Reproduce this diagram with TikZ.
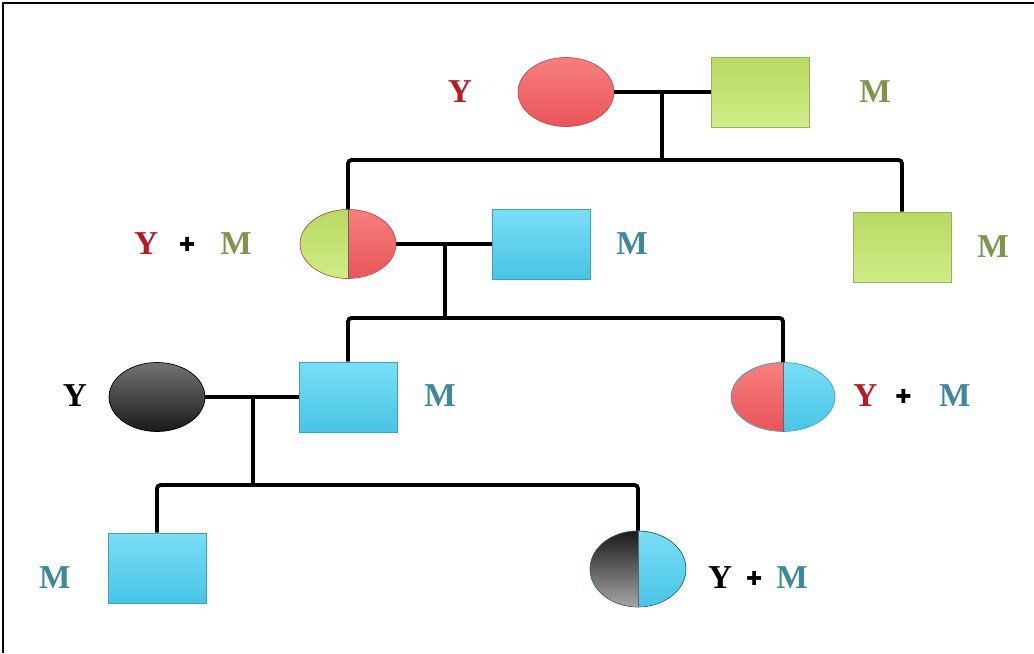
\documentclass[tikz,border=0pt]{standalone}
\usepackage{fontspec}
\setmainfont{Liberation Serif}
\newfontfamily\crossfont{DejaVu Sans}
\usetikzlibrary{shapes.geometric}
\definecolor{redtop}{RGB}{246,128,124}
\definecolor{redbot}{RGB}{234,84,90}
\definecolor{redline}{RGB}{196,72,76}
\definecolor{greentop}{RGB}{184,217,98}
\definecolor{greenbot}{RGB}{208,236,134}
\definecolor{greenline}{RGB}{150,178,90}
\definecolor{bluetop}{RGB}{122,222,246}
\definecolor{bluebot}{RGB}{72,196,230}
\definecolor{blueline}{RGB}{62,160,190}
\definecolor{labred}{RGB}{184,26,36}
\definecolor{labgreen}{RGB}{126,150,76}
\definecolor{labteal}{RGB}{62,136,156}
\newcommand{\pluscross}{{\crossfont\fontsize{11}{12}\selectfont\raisebox{0.3ex}{✚}}}
\tikzset{
  female/.style={ellipse, minimum width=1.92cm, minimum height=1.38cm, inner sep=0pt},
  male/.style={rectangle, minimum width=1.96cm, minimum height=1.4cm, inner sep=0pt},
  redfill/.style={top color=redtop, bottom color=redbot, draw=redline, thin},
  greenfill/.style={top color=greentop, bottom color=greenbot, draw=greenline, thin},
  bluefill/.style={top color=bluetop, bottom color=bluebot, draw=blueline, thin},
  blackfill/.style={top color=black!55, bottom color=black!90, draw=black, thin},
  lbl/.style={font=\fontsize{19}{22}\selectfont\bfseries, inner sep=0pt},
  link/.style={line width=2.2pt, black, rounded corners=2pt},
}
\begin{document}
\begin{tikzpicture}[x=0.02cm, y=-0.02cm]
\useasboundingbox (0,0) rectangle (1034,653);
\draw [line width=1.4pt] (3,653)--(3,3)--(1034,3);
\pgfmathsetmacro{\rx}{0.96}
\pgfmathsetmacro{\ry}{0.69}
% first generation
\node[female, redfill] (gaf) at (566,92) {};
\node[male, greenfill] (gam) at (760,92) {};
\node[lbl, labred] (laf) at (460,92) {Y};
\node[lbl, labgreen] (lam) at (875,92) {M};
\coordinate (ja) at (662,92);
\coordinate (sa) at (662,160);
% second generation
\node[female] (gbf) at (348,244) {};
\shade[top color=greentop, bottom color=greenbot] (gbf.north) arc[start angle=90, end angle=270, x radius=\rx cm, y radius=\ry cm] -- cycle;
\shade[top color=redtop, bottom color=redbot] (gbf.north) arc[start angle=90, end angle=-90, x radius=\rx cm, y radius=\ry cm] -- cycle;
\draw[redline, thin] (gbf.center) ellipse [x radius=\rx cm, y radius=\ry cm];
\draw[black!60, thin] (gbf.north)--(gbf.south);
\node[male, bluefill] (gbm) at (541,244) {};
\node[male, greenfill] (gbu) at (902,247) {};
\node[lbl] (lbf) at (193,244) {\textcolor{labred}{Y}\hspace{0.42cm}\pluscross\hspace{0.5cm}\textcolor{labgreen}{M}};
\node[lbl, labteal] (lbm) at (632,244) {M};
\node[lbl, labgreen] (lbu) at (993,247) {M};
\coordinate (jb) at (445,244);
\coordinate (sb) at (445,318);
% third generation
\node[female, blackfill] (gcf) at (157,397) {};
\node[male, bluefill] (gcm) at (348,397) {};
\pgfmathsetmacro{\rx}{1.04}
\node[female, minimum width=2.08cm] (gcd) at (783,397) {};
\shade[top color=redtop, bottom color=redbot] (gcd.north) arc[start angle=90, end angle=270, x radius=\rx cm, y radius=\ry cm] -- cycle;
\shade[top color=bluetop, bottom color=bluebot] (gcd.north) arc[start angle=90, end angle=-90, x radius=\rx cm, y radius=\ry cm] -- cycle;
\draw[blueline, thin] (gcd.center) ellipse [x radius=\rx cm, y radius=\ry cm];
\draw[black!60, thin] (gcd.north)--(gcd.south);
\node[lbl] (lcf) at (75,396) {Y};
\node[lbl, labteal] (lcm) at (440,396) {M};
\node[lbl] (lcd) at (912,396) {\textcolor{labred}{Y}\hspace{0.36cm}\pluscross\hspace{0.55cm}\textcolor{labteal}{M}};
\coordinate (jc) at (253,397);
\coordinate (sc) at (253,485);
% fourth generation
\node[male, bluefill] (gds) at (157,568) {};
\pgfmathsetmacro{\rx}{0.96}
\pgfmathsetmacro{\ry}{0.76}
\node[female, minimum height=1.52cm] (gdd) at (638,569) {};
\shade[top color=black!90, bottom color=black!35] (gdd.north) arc[start angle=90, end angle=270, x radius=\rx cm, y radius=\ry cm] -- cycle;
\shade[top color=bluetop, bottom color=bluebot] (gdd.north) arc[start angle=90, end angle=-90, x radius=\rx cm, y radius=\ry cm] -- cycle;
\draw[blueline!60!black, thin] (gdd.center) ellipse [x radius=\rx cm, y radius=\ry cm];
\draw[black!60, thin] (gdd.north)--(gdd.south);
\node[lbl, labteal] (lds) at (55,578) {M};
\node[lbl] (ldd) at (758,578) {Y\hspace{0.28cm}\pluscross\hspace{0.28cm}\textcolor{labteal}{M}};
% connectors
\draw[link] (gaf.east)--(gam.west);
\draw[link] (ja)--(sa);
\draw[link] (gbf.north) |- (sa) -| (gbu.north);
\draw[link] (gbf.east)--(gbm.west);
\draw[link] (jb)--(sb);
\draw[link] (gcm.north) |- (sb) -| (gcd.north);
\draw[link] (gcf.east)--(gcm.west);
\draw[link] (jc)--(sc);
\draw[link] (gds.north) |- (sc) -| (gdd.north);
\end{tikzpicture}
\end{document}
